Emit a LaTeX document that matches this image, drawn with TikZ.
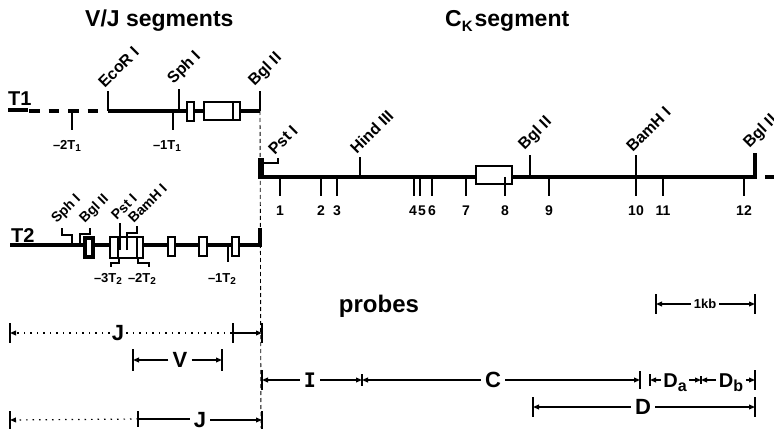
\documentclass[tikz,border=0pt]{standalone}
\usepackage{fontspec}
\setmainfont{Liberation Sans}
\newfontfamily\slabfont{DejaVu Sans Mono}
\usetikzlibrary{arrows.meta}

\newcommand{\fs}[1]{\fontsize{#1}{#1}\selectfont}
\newcommand{\lowtext}[3]{\raisebox{#1}{\fontsize{#2}{#2}\selectfont #3}}
\newcommand{\vbar}[2]{\draw[bar] (#1) ++(0,-#2) -- ++(0,2*#2);}

\tikzset{
  dna/.style={line width=3.1pt},
  site/.style={line width=2.6pt},
  exon/.style={draw, line width=2.2pt, fill=white},
  rs/.style={font=\bfseries\fs{16}, rotate=45, anchor=south west, inner sep=0.6pt},
  num/.style={font=\bfseries\fs{14}, inner sep=0pt},
  tl/.style={font=\bfseries\fs{13}, inner sep=0pt},
  title/.style={font=\bfseries\fs{23}, inner sep=0pt, anchor=base west},
  strand/.style={font=\bfseries\fs{20}, inner sep=0pt, anchor=base west},
  big/.style={font=\bfseries\fs{22}, inner sep=4pt},
  dim/.style={line width=1.2pt},
  arr/.style={dim, -{Triangle[length=6pt,width=4.8pt]}},
  dotarr/.style={arr, dash pattern=on 1.5pt off 5pt},
  dots/.style={dim, dash pattern=on 1.5pt off 5pt},
  bar/.style={line width=1.7pt},
  vdash/.style={line width=0.9pt, dash pattern=on 4pt off 3pt},
}

\begin{document}
\begin{tikzpicture}[x=1pt,y=-1pt]
\useasboundingbox (0,0) rectangle (774,433);
\clip (0,0) rectangle (774,433);

% headings
\node[title] (vjtitle) at (85,27) {V/J segments};
\node[title] (cktitle) at (445,27) {C\lowtext{-4.5pt}{15}{K}\hspace{2pt}segment};

% ---------- T1 ----------
\node[strand] (t1) at (8,106) {T1};
\draw[dna] (8,110) -- (28,110);
\draw[dna, dash pattern=on 10.5pt off 9pt] (29,111) -- (100,111);
\coordinate (ecor) at (108,111);
\coordinate (bglA) at (260,111);
\draw[dna] (ecor) -- (bglA);
% restriction sites
\draw[site] (ecor) -- (108,91) coordinate (ecorTop);
\node[rs] (ecorLab) at (105,90) {EcoR I};
\draw[site] (179,111) -- (179,89) coordinate (sphATop);
\node[rs] (sphALab) at (176,88) {Sph I};
\draw[site] (bglA) -- (260,91) coordinate (bglATop);
\node[rs] (bglALab) at (257,90) {Bgl II};
% T1 sites below
\draw[site] (72,111) -- (72,130) coordinate (m2t1);
\node[tl] (m2t1Lab) at (67,146) {–2T\lowtext{-1.5pt}{10}{1}};
\draw[site] (173,111) -- (173,130) coordinate (m1t1);
\node[tl] (m1t1Lab) at (167,146) {–1T\lowtext{-1.5pt}{10}{1}};
% exons
\draw[exon] (187,102) rectangle (194,121);
\draw[exon] (204,102) rectangle (240,120);
\draw[line width=2.2pt] (233,102) -- (233,120);

% joining dashed line
\draw[vdash] (bglA) -- (261,428);

% ---------- C kappa segment ----------
\fill (258,158) rectangle (264,179);
\draw[site] (262,163) -- (278,163) -- (278,158) coordinate (pstCTop);
\node[rs] (pstCLab) at (275,157) {Pst I};
\coordinate (cstart) at (262,177);
\coordinate (cend) at (755,177);
\draw[dna] (cstart) -- (cend) -- (755,153) coordinate (bglCTop);
\node[rs] (bglCLab) at (752,152) {Bgl II};
\draw[dna] (765,177) -- (780,177);
\draw[site] (360,177) -- (360,157);
\node[rs] (hindLab) at (357,156) {Hind III};
\draw[site] (530,177) -- (530,155);
\node[rs] (bglBLab) at (527,154) {Bgl II};
\draw[site] (636,177) -- (636,155);
\node[rs] (bamCLab) at (633,154) {BamH I};
% C exon
\draw[exon] (476,166) rectangle (512,184);
% numbered sites
\foreach \x in {280,321,337,414,420,432,466,505,549,636,663,744}
  \draw[site] (\x,177) -- (\x,196);
\foreach \x/\n in {280/1,321/2,337/3,413/4,422/5,432/6,466/7,505/8,549/9,636/10,663/11,744/12}
  \node[num] (n\n) at (\x,211) {\n};

% ---------- T2 ----------
\node[strand] (t2) at (11,242) {T2};
\draw[dna] (10,245) -- (260,245) -- (260,228);
\draw[site] (72,245) -- (72,235) -- (62,235) -- (62,228);
\node[rs, font=\bfseries\fs{14}] (sphBLab) at (59,227) {Sph I};
\draw[site] (80,245) -- (80,234) -- (90,234) -- (90,228);
\node[rs, font=\bfseries\fs{14}] (bglDLab) at (87,227) {Bgl II};
% exons
\draw[exon, line width=3.4pt] (85,238) rectangle (93,257);
\draw[exon] (110,237) rectangle (143,258);
\draw[line width=2.2pt] (118,237) -- (118,258);
\draw[line width=2.2pt] (137,237) -- (137,258);
\draw[exon] (168,237) rectangle (175,256);
\draw[exon] (199,237) rectangle (207,256);
\draw[exon] (232,237) rectangle (239,256);
% sites inside the exon block
\draw[site] (120,250) -- (120,223);
\node[rs, font=\bfseries\fs{14}] (pstBLab) at (117,222) {Pst I};
\draw[site] (127,250) -- (127,233) -- (137,233) -- (137,226);
\node[rs, font=\bfseries\fs{14}] (bamBLab) at (134,225) {BamH I};
% T2 sites below
\draw[site] (119,258) -- (119,263) -- (111,263) -- (111,267);
\draw[site] (138,258) -- (138,263) -- (149,263) -- (149,267);
\draw[site] (228,245) -- (228,262);
\node[tl] (m3t2Lab) at (108,279) {–3T\lowtext{-1.5pt}{10}{2}};
\node[tl] (m2t2Lab) at (142,279) {–2T\lowtext{-1.5pt}{10}{2}};
\node[tl] (m1t2Lab) at (222,279) {–1T\lowtext{-1.5pt}{10}{2}};

% ---------- probes ----------
\node[font=\bfseries\fs{24}, inner sep=0pt, anchor=base] (probes) at (379,312) {probes};

% scale bar
\coordinate (sa) at (656,304); \coordinate (sb) at (755,304);
\node[font=\bfseries\fs{13}, inner sep=3pt] (onekb) at (705,304) {1kb};
\draw[arr] (onekb.west |- sa) -- (sa);
\draw[arr] (onekb.east |- sb) -- (sb);
\vbar{sa}{10} \vbar{sb}{10}

% J (upper)
\coordinate (ja) at (10,333); \coordinate (jb) at (233,333); \coordinate (jc) at (262,333);
\node[big, inner sep=2pt] (J1) at (118,333) {J};
\draw[dotarr] (J1.west |- ja) -- (ja);
\draw[dots] (J1.east |- jb) -- (jb);
\draw[arr] (jb) -- (jc);
\vbar{ja}{10} \vbar{jb}{10} \vbar{jc}{10}

% V
\coordinate (va) at (133,360); \coordinate (vb) at (222,360);
\node[big] (V) at (180,360) {V};
\draw[arr] (V.west |- va) -- (va);
\draw[arr] (V.east |- vb) -- (vb);
\vbar{va}{11} \vbar{vb}{11}

% I and C
\coordinate (ia) at (262,380); \coordinate (ib) at (362,380); \coordinate (cb) at (640,380);
\node[font=\slabfont\bfseries\fs{20}, inner sep=4pt] (I) at (310,380) {I};
\node[big] (C) at (493,380) {C};
\draw[arr] (I.west |- ia) -- (ia);
\draw[arr] (I.east |- ib) -- (ib);
\draw[arr] (C.west |- ib) -- (ib);
\draw[arr] (C.east |- cb) -- (cb);
\vbar{ia}{10} \vbar{ib}{6} \vbar{cb}{9}

% Da and Db
\coordinate (da) at (650,380); \coordinate (dm) at (701,380); \coordinate (db) at (755,380);
\node[font=\bfseries\fs{20}, inner sep=2.5pt, anchor=base] (Da) at (675,387) {D\lowtext{-4.5pt}{16}{a}};
\node[font=\bfseries\fs{20}, inner sep=2.5pt, anchor=base] (Db) at (731,387) {D\lowtext{-4.5pt}{16}{b}};
\draw[arr] (Da.west |- da) -- (da);
\draw[arr] (Da.east |- dm) -- (dm);
\draw[arr] (Db.west |- dm) -- (dm);
\draw[arr] (Db.east |- db) -- (db);
\vbar{da}{6} \vbar{dm}{4} \vbar{db}{10}

% D
\coordinate (dl) at (533,407); \coordinate (dr) at (755,407);
\node[big] (D) at (643,407) {D};
\draw[arr] (D.west |- dl) -- (dl);
\draw[arr] (D.east |- dr) -- (dr);
\vbar{dl}{10} \vbar{dr}{10}

% J (lower)
\coordinate (ka) at (10,420); \coordinate (kb) at (138,419); \coordinate (kc) at (262,420);
\node[big] (J2) at (200,420) {J};
\draw[dotarr] (kb) -- (ka);
\draw[dim] (J2.west |- kb) -- (kb);
\draw[arr] (J2.east |- kc) -- (kc);
\vbar{ka}{9} \vbar{kb}{8} \vbar{kc}{9}
\end{tikzpicture}
\end{document}
